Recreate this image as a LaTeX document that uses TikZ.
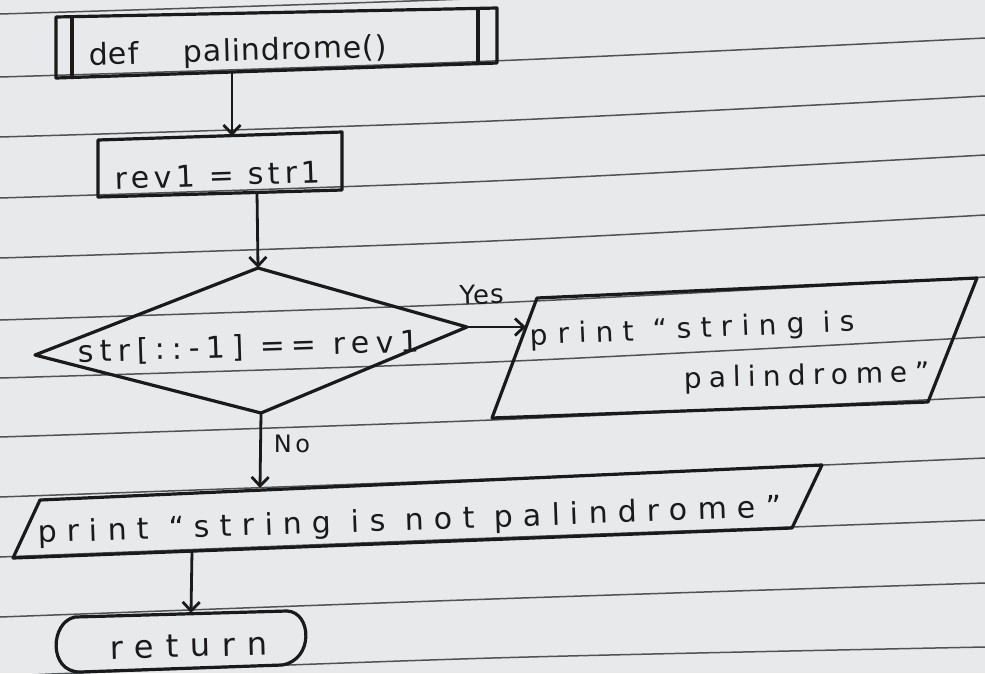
\documentclass[tikz,border=0pt]{standalone}
\usepackage{fontspec}
\setmainfont{DejaVu Sans}
\usetikzlibrary{arrows.meta}
\definecolor{paper}{HTML}{E7E9EB}
\definecolor{ink}{HTML}{1A1A1A}
\definecolor{rulec}{HTML}{505356}
\newcommand{\hw}[3]{\fontsize{#1}{#1}\selectfont\addfontfeature{LetterSpace=#2}#3}
\begin{document}
\begin{tikzpicture}[x=1pt,y=-1pt,
  inkline/.style={draw=ink,line width=3.2pt,line join=round,line cap=round},
  ruleline/.style={draw=rulec,line width=1.5pt},
  arr/.style={draw=ink,line width=2.8pt,-{Straight Barb[length=9pt,width=17pt]}},
  lbl/.style={text=ink,inner sep=0pt,anchor=base}]
\useasboundingbox (0,0) rectangle (985,673);
\clip (0,0) rectangle (985,673);
\fill[paper] (0,0) rectangle (985,673);
% ruled paper
\foreach \l/\m/\r in {14/-2/-25, 77/61/38, 137/121/96, 198/181/155, 258/241/215,
  320/303/277, 378/362/337, 437/420/397, 497/479/458, 557/538/520, 617/599/583, 676/658/647}
  \draw[ruleline] plot[smooth] coordinates {(0,\l) (492,\m) (985,\r)};

% ---- shape outlines (hand drawn, slightly tilted) ----
% predefined process: def palindrome()
\coordinate (defTL) at (56,17);  \coordinate (defTR) at (497,8);
\coordinate (defBR) at (497,63); \coordinate (defBL) at (56,78);
\coordinate (defS) at (232,72);
\draw[inkline] (defTL) -- (defTR) -- (defBR) -- (defBL) -- cycle;
\draw[inkline] (72,16.7) -- (72,77.5);
\draw[inkline] (478,8.4) -- (478,63.6);
% process: rev1 = str1
\coordinate (revTL) at (98,140); \coordinate (revTR) at (342,132);
\coordinate (revBR) at (342,190); \coordinate (revBL) at (98,197);
\coordinate (revN) at (232,136); \coordinate (revS) at (257,192);
\draw[inkline] (revTL) -- (revTR) -- (revBR) -- (revBL) -- cycle;
% decision
\coordinate (dT) at (258,268); \coordinate (dL) at (35,355);
\coordinate (dR) at (467,327); \coordinate (dB) at (261,413);
\draw[inkline] (dT) -- (dR) -- (dB) -- (dL) -- cycle;
% output: string is palindrome
\coordinate (p1TL) at (537,298); \coordinate (p1TR) at (977,278);
\coordinate (p1BR) at (928,402); \coordinate (p1BL) at (492,418);
\coordinate (p1W) at (526,327);
\draw[inkline] (p1TL) -- (p1TR) -- (p1BR) -- (p1BL) -- cycle;
% output: string is not palindrome
\coordinate (p2TL) at (40,500); \coordinate (p2TR) at (822,465);
\coordinate (p2BR) at (792,528); \coordinate (p2BL) at (13,558);
\coordinate (p2N) at (260,488); \coordinate (p2S) at (192,551);
\draw[inkline] (p2TL) -- (p2TR) -- (p2BR) -- (p2BL) -- cycle;
% terminal: return
\coordinate (retN) at (191,613);
\draw[inkline] (75,617) -- (287,611) .. controls (312,612) and (314,660) .. (282,665)
  -- (80,672) .. controls (48,672) and (50,622) .. cycle;

% ---- texts ----
\node[lbl,rotate=1.6] (tdef) at (238,61) {\hw{30}{3}{def\hspace{45pt}palindrome()}};
\node[lbl,rotate=1.9] (trev) at (218,186) {\hw{30}{15}{rev1 = str1}};
\node[lbl,rotate=1.8] (tdec) at (249,357) {\hw{30}{22}{str[::-1] == rev1}};
\node[lbl,rotate=2] (tyes) at (482,304) {\hw{26}{4}{Yes}};
\node[lbl,rotate=2.5] (tp1a) at (693,338) {\hw{28}{34}{print “string is}};
\node[lbl,rotate=1.5] (tp1b) at (807,385) {\hw{28}{26}{palindrome”}};
\node[lbl] (tno) at (292,452) {\hw{24}{15}{No}};
\node[lbl,rotate=2] (tp2) at (410,530) {\hw{30}{34}{print “string is not palindrome”}};
\node[lbl,rotate=1.5] (tret) at (189,657) {\hw{32}{37}{return}};

% ---- connectors ----
\draw[arr] (defS) -- (revN);
\draw[arr] (revS) -- (dT);
\draw[arr] (dR) -- (p1W);
\draw[arr] (dB) -- (p2N);
\draw[arr] (p2S) -- (retN);
\end{tikzpicture}
\end{document}
